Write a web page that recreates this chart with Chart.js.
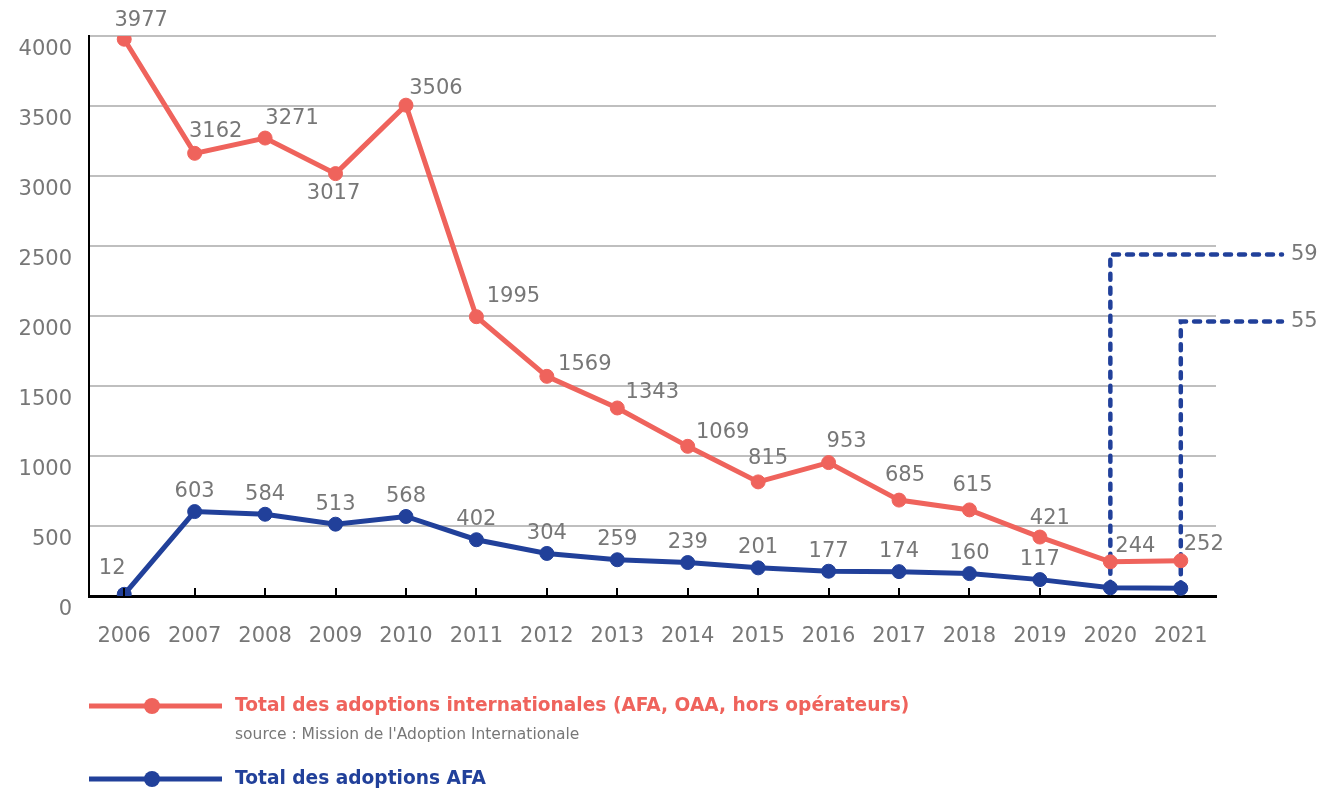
<!DOCTYPE html>
<html lang="fr">
<head>
<meta charset="utf-8">
<title>Adoptions internationales 2006-2021</title>
<script src="https://cdn.jsdelivr.net/npm/chart.js@4.4.1/dist/chart.umd.min.js"></script>
<style>
  html, body { margin: 0; padding: 0; background: #ffffff; }
  #adoptionsChart { display: block; }
</style>
</head>
<body>
<canvas id="adoptionsChart" width="1326" height="796"></canvas>
<script>
const years = ["2006", "2007", "2008", "2009", "2010", "2011", "2012", "2013",
  "2014", "2015", "2016", "2017", "2018", "2019", "2020", "2021"];
const totalInternational = [3977, 3162, 3271, 3017, 3506, 1995, 1569, 1343,
  1069, 815, 953, 685, 615, 421, 244, 252];
const totalAfa = [12, 603, 584, 513, 568, 402, 304, 259,
  239, 201, 177, 174, 160, 117, 59, 55];
const yTicks = [0, 500, 1000, 1500, 2000, 2500, 3000, 3500, 4000];
// AFA values too small to label on the line: shown with a callout instead
const calloutYears = ["2020", "2021"];
const calloutLevels = [2440, 1960];
const sourceNote = "source : Mission de l'Adoption Internationale";

const RED = "#EF635C";
const BLUE = "#21409A";
const GREY = "#777777";
const FONT = "'DejaVu Sans', Verdana, sans-serif";

// label nudges (px) for the red series
const redDx = [17, 21, 27, -2, 30, 37, 38, 35, 35, 10, 18, 6, 3, 10, 25, 23];
const redDy = [-19, -22, -20, 20, -17, -20, -12, -15, -14, -23, -21, -25, -24, -19, -15, -16];

const valueLabels = {
  id: "valueLabels",
  afterDatasetsDraw(chart) {
    const ctx = chart.ctx;
    ctx.save();
    ctx.font = "21px " + FONT;
    ctx.fillStyle = GREY;
    ctx.textAlign = "center";
    ctx.textBaseline = "middle";
    chart.getDatasetMeta(0).data.forEach((pt, i) => {
      ctx.fillText(String(totalInternational[i]), pt.x + redDx[i], pt.y + redDy[i]);
    });
    chart.getDatasetMeta(1).data.forEach((pt, i) => {
      if (calloutYears.includes(years[i])) return;
      const dx = i === 0 ? -12 : 0;
      const dy = i === 0 ? -26 : -20;
      ctx.fillText(String(totalAfa[i]), pt.x + dx, pt.y + dy);
    });
    ctx.restore();
  },
};

const callouts = {
  id: "callouts",
  beforeDatasetsDraw(chart) {
    const ctx = chart.ctx;
    const xs = chart.scales.x;
    const ys = chart.scales.y;
    const endX = chart.chartArea.right + 66;
    ctx.save();
    ctx.strokeStyle = BLUE;
    ctx.lineWidth = 4.5;
    ctx.lineCap = "round";
    ctx.setLineDash([6, 8]);
    calloutYears.forEach((yr, k) => {
      const i = years.indexOf(yr);
      const x = xs.getPixelForValue(i);
      const y0 = ys.getPixelForValue(totalAfa[i]);
      const y1 = ys.getPixelForValue(calloutLevels[k]);
      ctx.beginPath();
      ctx.moveTo(x, y0);
      ctx.lineTo(x, y1);
      ctx.lineTo(endX, y1);
      ctx.stroke();
    });
    ctx.setLineDash([]);
    ctx.font = "21px " + FONT;
    ctx.fillStyle = GREY;
    ctx.textAlign = "left";
    ctx.textBaseline = "middle";
    calloutYears.forEach((yr, k) => {
      const i = years.indexOf(yr);
      ctx.fillText(String(totalAfa[i]), endX + 9, ys.getPixelForValue(calloutLevels[k]));
    });
    ctx.restore();
  },
};

const axisTicks = {
  id: "axisTicks",
  afterDraw(chart) {
    const ctx = chart.ctx;
    const xs = chart.scales.x;
    const bottom = chart.chartArea.bottom;
    ctx.save();
    ctx.strokeStyle = "#000000";
    ctx.lineWidth = 2;
    years.forEach((yr, i) => {
      if (calloutYears.includes(yr)) return;
      const x = Math.round(xs.getPixelForValue(i));
      ctx.beginPath();
      ctx.moveTo(x, bottom);
      ctx.lineTo(x, bottom - 8);
      ctx.stroke();
    });
    ctx.restore();
  },
};

const bottomLegend = {
  id: "bottomLegend",
  afterDraw(chart) {
    const ctx = chart.ctx;
    const rows = [706, 779];
    ctx.save();
    chart.data.datasets.forEach((ds, i) => {
      const y = rows[i];
      ctx.strokeStyle = ds.borderColor;
      ctx.lineWidth = 5;
      ctx.beginPath();
      ctx.moveTo(89, y);
      ctx.lineTo(222, y);
      ctx.stroke();
      ctx.fillStyle = ds.borderColor;
      ctx.beginPath();
      ctx.arc(152, y, 8, 0, Math.PI * 2);
      ctx.fill();
      ctx.font = "bold 18.6px " + FONT;
      ctx.textAlign = "left";
      ctx.textBaseline = "middle";
      ctx.fillText(ds.label, 235, y);
    });
    ctx.font = "15.5px " + FONT;
    ctx.fillStyle = GREY;
    ctx.textBaseline = "middle";
    ctx.fillText(sourceNote, 235, 735);
    ctx.restore();
  },
};

const ctx = document.getElementById("adoptionsChart").getContext("2d");
const adoptionsChart = new Chart(ctx, {
  type: "line",
  data: {
    labels: years,
    datasets: [
      {
        label: "Total des adoptions internationales (AFA, OAA, hors opérateurs)",
        data: totalInternational,
        borderColor: RED,
        backgroundColor: RED,
        borderWidth: 5,
        pointRadius: 7,
        pointBorderWidth: 1,
        pointBackgroundColor: RED,
        tension: 0,
      },
      {
        label: "Total des adoptions AFA",
        data: totalAfa,
        borderColor: BLUE,
        backgroundColor: BLUE,
        borderWidth: 5,
        pointRadius: 7,
        pointBorderWidth: 1,
        pointBackgroundColor: BLUE,
        tension: 0,
      },
    ],
  },
  options: {
    responsive: false,
    animation: false,
    layout: { padding: { top: 36, right: 110, bottom: 136, left: 0 } },
    plugins: {
      legend: { display: false },
      tooltip: { enabled: false },
    },
    scales: {
      x: {
        offset: true,
        grid: { display: false },
        border: { display: true, color: "#000000", width: 3 },
        ticks: {
          color: GREY,
          font: { family: FONT, size: 21 },
          padding: 20,
          maxRotation: 0,
        },
        afterFit(scale) { scale.height = 64; },
      },
      y: {
        min: 0,
        max: 4000,
        afterBuildTicks(scale) { scale.ticks = yTicks.map((v) => ({ value: v })); },
        grid: { color: "#BFBFBF", lineWidth: 2, drawTicks: false },
        border: { display: true, color: "#000000", width: 2 },
        ticks: {
          color: GREY,
          font: { family: FONT, size: 21 },
          padding: 17,
          labelOffset: 14,
          callback: (value) => String(value),
        },
        afterFit(scale) { scale.width = 89; },
      },
    },
  },
  plugins: [callouts, valueLabels, axisTicks, bottomLegend],
});
</script>
</body>
</html>
